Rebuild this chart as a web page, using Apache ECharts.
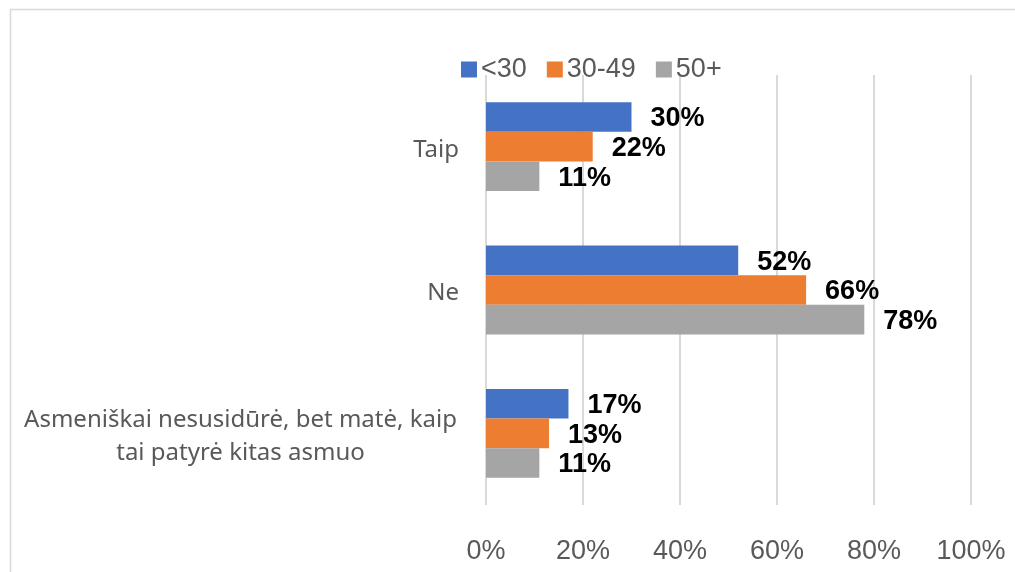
<!DOCTYPE html>
<html>
<head>
<meta charset="utf-8">
<script src="https://cdn.jsdelivr.net/npm/echarts@6/dist/echarts.min.js"></script>
<style>
  html, body { margin: 0; padding: 0; background: #fff; }
  #chart { width: 1015px; height: 572px; }
</style>
</head>
<body>
<div id="chart"></div>
<script>
// atsakymų kategorijos (iš viršaus į apačią)
var categories = ['Taip', 'Ne', 'Asmeniškai nesusidūrė, bet matė, kaip\ntai patyrė kitas asmuo'];
// amžiaus grupės
var groups = ['<30', '30-49', '50+'];
var under30 = [30, 52, 17];
var mid3049 = [22, 66, 13];
var over50 = [11, 78, 11];
var xTicks = [0, 20, 40, 60, 80, 100];

var colors = ['#4472C4', '#ED7D31', '#A5A5A5'];
var values = [under30, mid3049, over50];

var chart = echarts.init(document.getElementById('chart'), null, { renderer: 'canvas' });

var series = groups.map(function (name, i) {
    return {
        name: name,
        type: 'bar',
        data: values[i],
        barGap: '0%',
        barCategoryGap: '38%',
        itemStyle: { color: colors[i] },
        label: {
            show: true,
            position: 'right',
            distance: 19,
            offset: [0, 2],
            formatter: '{c}%',
            color: '#000',
            fontFamily: 'Liberation Sans, Arial, sans-serif',
            fontWeight: 'bold',
            fontSize: 27
        }
    };
});

var option = {
    animation: false,
    color: colors,
    graphic: [{
        type: 'rect',
        silent: true,
        shape: { x: 10.5, y: 9.5, width: 1100, height: 700 },
        style: { fill: 'none', stroke: '#d9d9d9', lineWidth: 1.5 }
    }],
    legend: {
        data: groups,
        top: 51,
        left: 456,
        itemWidth: 16,
        itemHeight: 16,
        itemGap: 20,
        icon: 'rect',
        textStyle: {
            color: '#595959',
            fontFamily: 'Liberation Sans, Arial, sans-serif',
            fontSize: 27,
            padding: [3, 0, 0, -1]
        }
    },
    grid: {
        left: 486,
        right: 44,
        top: 75,
        bottom: 67,
        containLabel: false
    },
    xAxis: {
        type: 'value',
        min: 0,
        max: 100,
        interval: 20,
        axisLine: { show: false },
        axisTick: { show: false },
        splitLine: { lineStyle: { color: '#d9d9d9', width: 2 } },
        axisLabel: {
            margin: 33,
            color: '#595959',
            fontFamily: 'Liberation Sans, Arial, sans-serif',
            fontSize: 27,
            formatter: function (v) {
                return xTicks.indexOf(v) >= 0 ? v + '%' : '';
            }
        }
    },
    yAxis: {
        type: 'category',
        inverse: true,
        data: categories,
        axisLine: { show: false },
        axisTick: { show: false },
        axisLabel: {
            margin: 27,
            color: '#595959',
            fontFamily: 'Noto Sans, Open Sans, sans-serif',
            fontSize: 24,
            lineHeight: 33,
            padding: [6, 0, 0, 0],
            formatter: function (v) {
                if (v.indexOf('\n') < 0) return v;
                return v.split('\n').map(function (s) { return '{c|' + s + '}'; }).join('\n');
            },
            rich: {
                c: {
                    width: 437,
                    align: 'center',
                    color: '#595959',
                    fontFamily: 'Noto Sans, Open Sans, sans-serif',
                    fontSize: 24,
                    lineHeight: 33
                }
            }
        }
    },
    series: series
};

chart.setOption(option);
</script>
</body>
</html>
